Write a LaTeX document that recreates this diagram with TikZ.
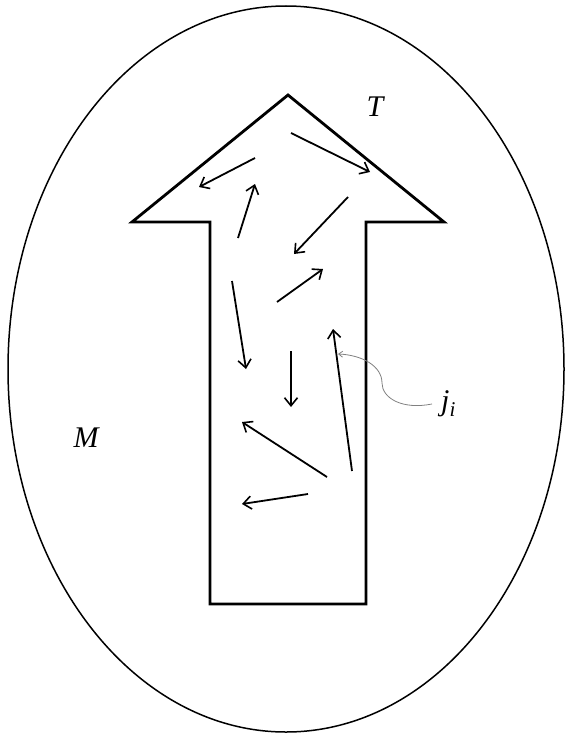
\documentclass[tikz,border=0pt]{standalone}
\usepackage{fontspec}
\setmainfont{Liberation Serif}
\usetikzlibrary{arrows.meta}
\begin{document}
\begin{tikzpicture}[x=1pt,y=-1pt,
  outline/.style={line width=2.8pt,line join=miter},
  vec/.style={line width=1.8pt,-{Straight Barb[length=8pt,width=13pt,line width=1.6pt]}},
  lead/.style={gray,line width=0.8pt,-{Straight Barb[length=4pt,width=6pt]}},
  lbl/.style={font=\fontsize{30}{34}\selectfont\itshape}]
\useasboundingbox (0,0) rectangle (566,733);
\draw[line width=1.5pt] (286,369) ellipse [x radius=278, y radius=363];
\draw[outline] (288,95) -- (444,222) -- (366,222) -- (366,604) -- (210,604) -- (210,222) -- (132,222) -- cycle;
% small current vectors
\draw[vec] (255,158) -- (199,187);
\draw[vec] (291,133) -- (370,172);
\draw[vec] (238,238) -- (255,184);
\draw[vec] (348,197) -- (294,254);
\draw[vec] (277,302) -- (323,269);
\draw[vec] (232,281) -- (246,369);
\draw[vec] (291,351) -- (291,407);
\draw[vec] (352,471) -- (333,329);
\draw[vec] (327,477) -- (242,422);
\draw[vec] (308,494) -- (242,504);
% labels
\node[lbl] (T) at (375,107) {T};
\node[lbl] (M) at (86,438) {M};
\node[lbl,anchor=west,inner xsep=9pt,inner ysep=1pt] (j) at (432,404) {j\textsubscript{\itshape i}};
\coordinate (jtip) at (338,354);
\draw[lead] (j.west) .. controls (402,410) and (382,398) .. (382,383) .. controls (382,366) and (362,355) .. (jtip);
\end{tikzpicture}
\end{document}
